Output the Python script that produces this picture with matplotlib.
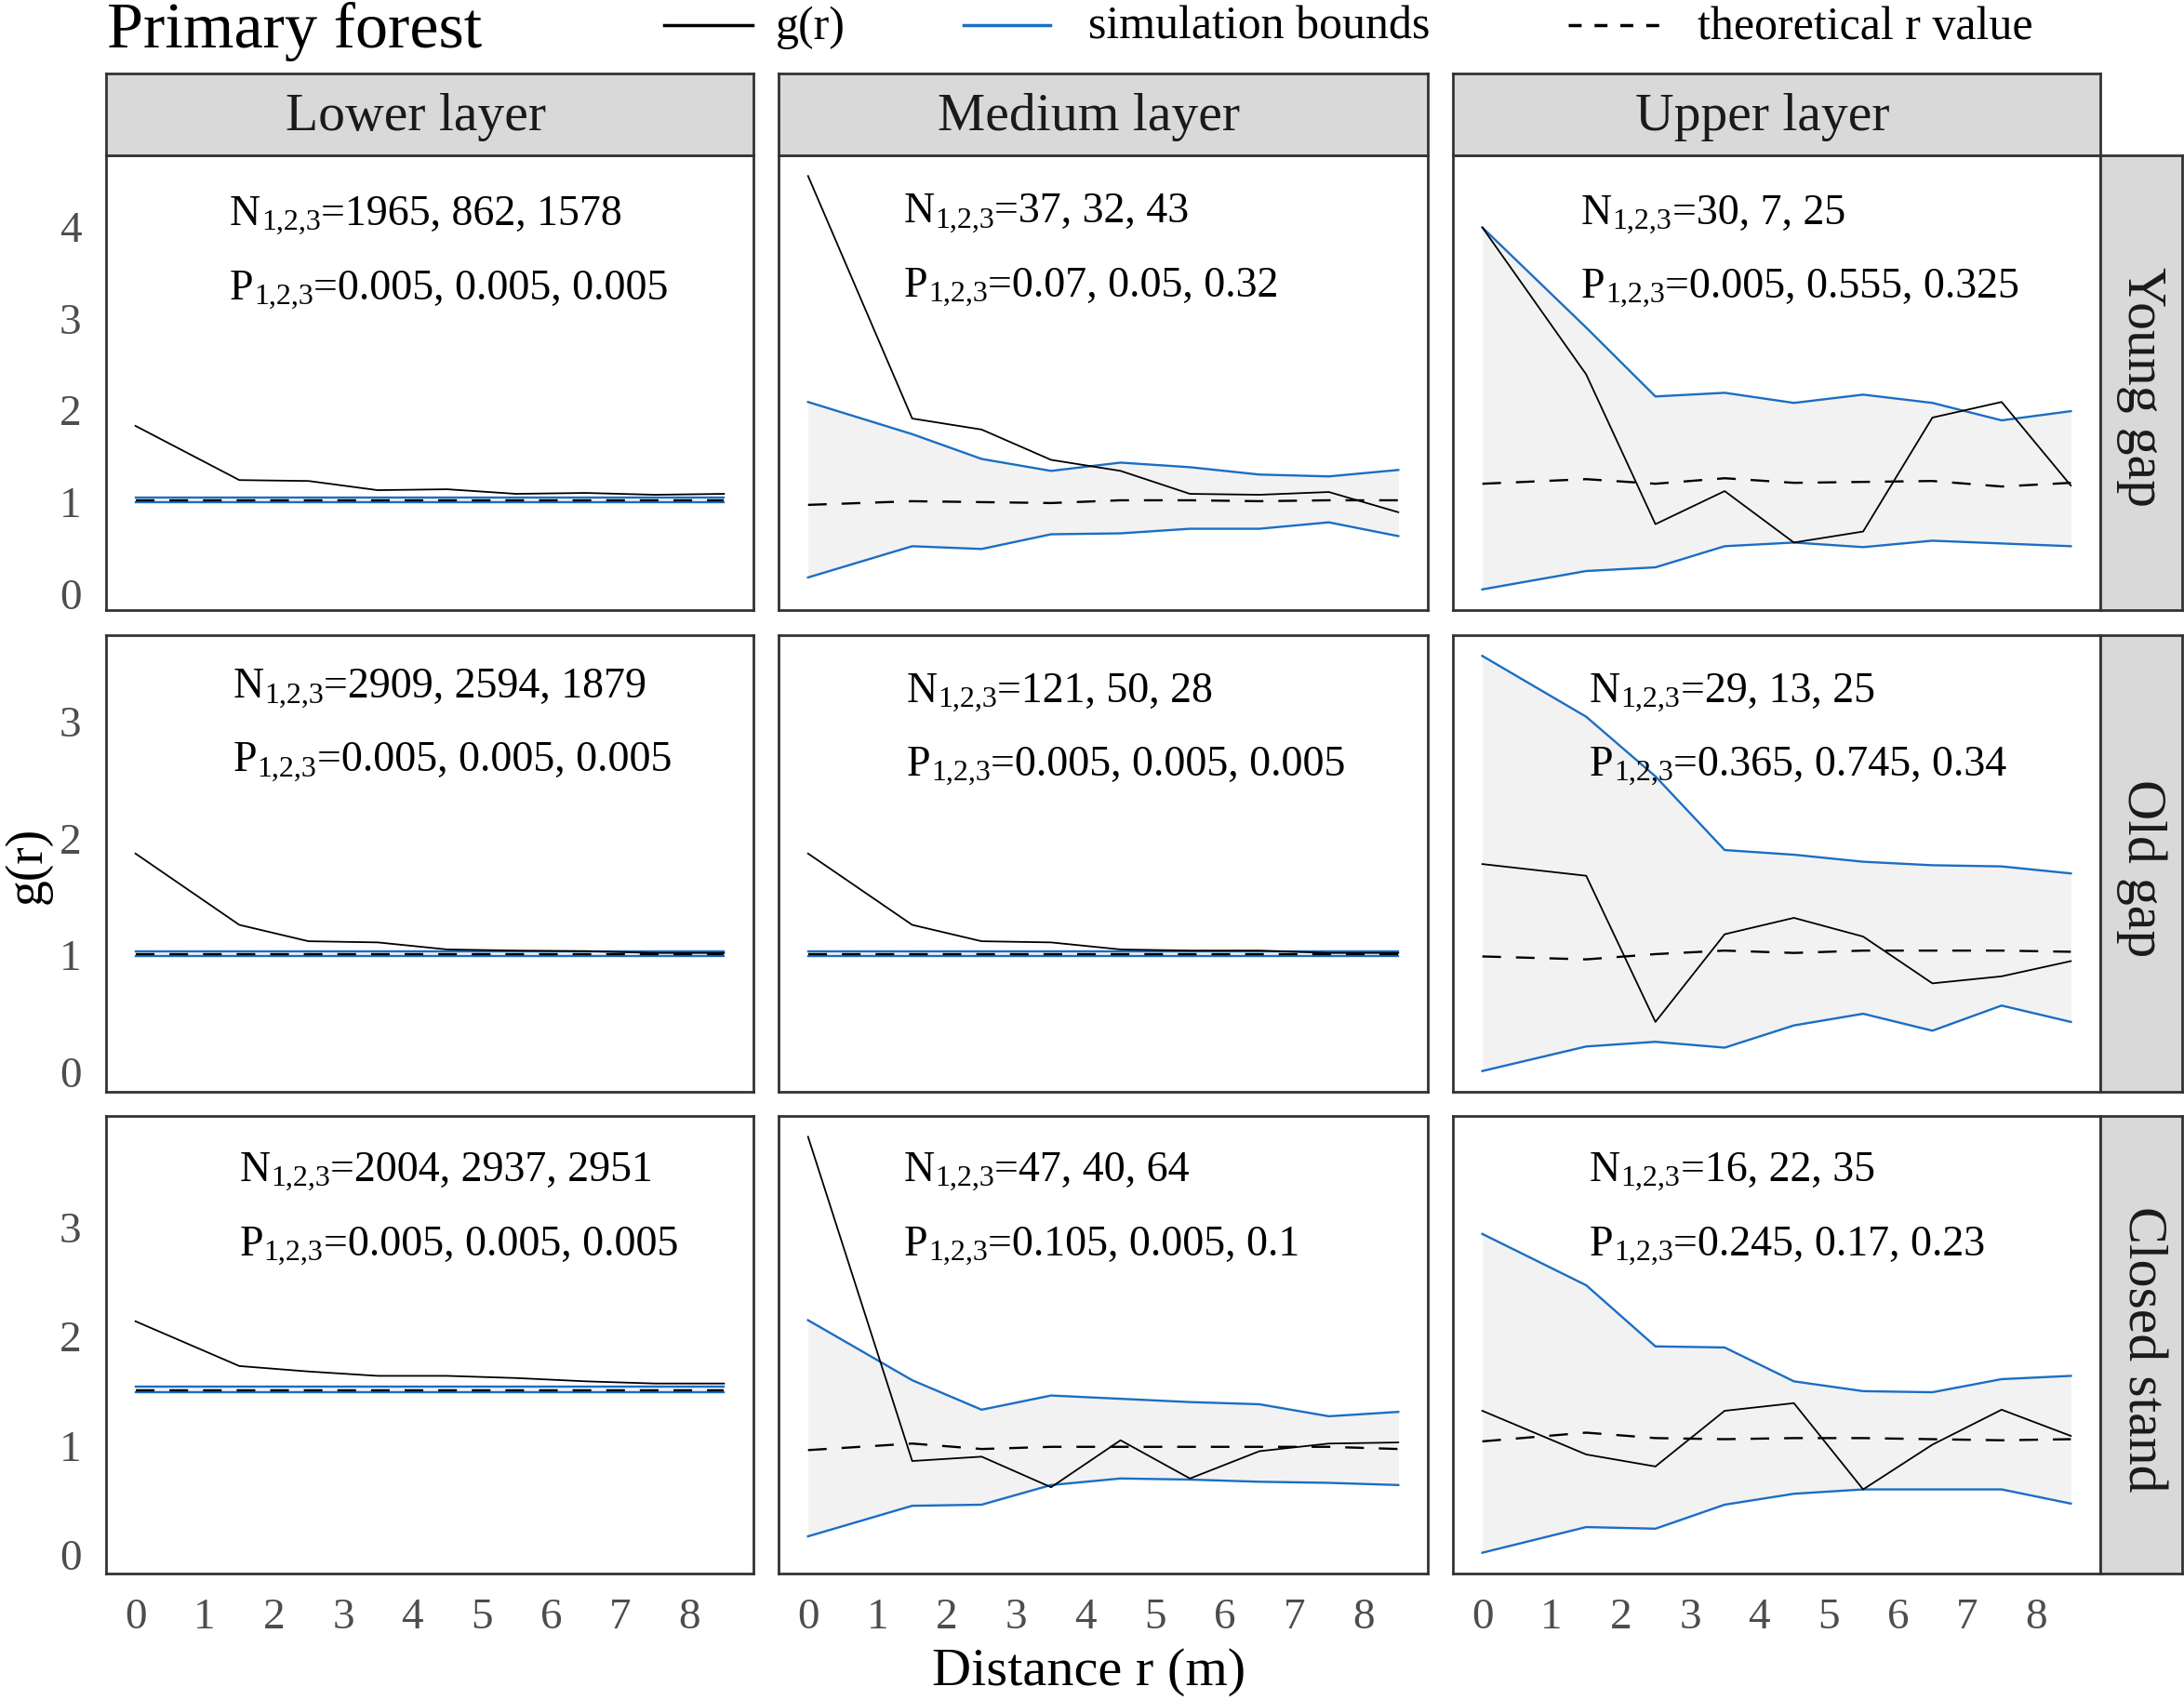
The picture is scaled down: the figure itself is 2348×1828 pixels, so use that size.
import matplotlib
matplotlib.use('Agg')
import matplotlib.pyplot as plt
from matplotlib.lines import Line2D

plt.rcParams['font.family'] = ['Liberation Serif', 'DejaVu Serif']

# ---------------- data ----------------
r = [0, 1.5, 2.5, 3.5, 4.5, 5.5, 6.5, 7.5, 8.5]

layers = ['Lower layer', 'Medium layer', 'Upper layer']
stands = ['Young gap', 'Old gap', 'Closed stand']

# Young gap
g_young_lower = [1.83, 1.24, 1.23, 1.13, 1.14, 1.09, 1.10, 1.08, 1.09]
hi_young_lower = [1.05, 1.05, 1.05, 1.05, 1.05, 1.05, 1.05, 1.05, 1.05]
lo_young_lower = [1.00, 1.00, 1.00, 1.00, 1.00, 1.00, 1.00, 1.00, 1.00]
th_young_lower = [1.02, 1.02, 1.02, 1.02, 1.02, 1.02, 1.02, 1.02, 1.02]

g_young_medium = [4.55, 1.91, 1.79, 1.46, 1.34, 1.09, 1.08, 1.11, 0.89]
hi_young_medium = [2.09, 1.74, 1.47, 1.34, 1.43, 1.38, 1.30, 1.28, 1.35]
lo_young_medium = [0.18, 0.52, 0.49, 0.65, 0.66, 0.71, 0.71, 0.78, 0.63]
th_young_medium = [0.97, 1.01, 1.00, 0.99, 1.02, 1.02, 1.01, 1.02, 1.02]

g_young_upper = [3.99, 2.39, 0.76, 1.12, 0.56, 0.68, 1.92, 2.09, 1.18]
hi_young_upper = [3.99, 2.90, 2.15, 2.19, 2.08, 2.17, 2.08, 1.89, 1.99]
lo_young_upper = [0.05, 0.25, 0.29, 0.52, 0.56, 0.51, 0.58, 0.55, 0.52]
th_young_upper = [1.20, 1.25, 1.20, 1.26, 1.21, 1.22, 1.23, 1.17, 1.21]

# Old gap
g_old_lower = [1.87, 1.26, 1.12, 1.11, 1.05, 1.04, 1.035, 1.02, 1.02]
hi_old_lower = [1.03, 1.03, 1.03, 1.03, 1.03, 1.03, 1.03, 1.03, 1.03]
lo_old_lower = [0.99, 0.99, 0.99, 0.99, 0.99, 0.99, 0.99, 0.99, 0.99]
th_old_lower = [1.01, 1.01, 1.01, 1.01, 1.01, 1.01, 1.01, 1.01, 1.01]

g_old_medium = [1.87, 1.26, 1.12, 1.11, 1.05, 1.04, 1.04, 1.02, 1.02]
hi_old_medium = [1.03, 1.03, 1.03, 1.03, 1.03, 1.03, 1.03, 1.03, 1.03]
lo_old_medium = [0.99, 0.99, 0.99, 0.99, 0.99, 0.99, 0.99, 0.99, 0.99]
th_old_medium = [1.01, 1.01, 1.01, 1.01, 1.01, 1.01, 1.01, 1.01, 1.01]

g_old_upper = [1.78, 1.68, 0.43, 1.18, 1.32, 1.16, 0.76, 0.82, 0.95]
hi_old_upper = [3.56, 3.04, 2.53, 1.90, 1.86, 1.80, 1.77, 1.76, 1.70]
lo_old_upper = [0.01, 0.22, 0.26, 0.21, 0.40, 0.50, 0.355, 0.57, 0.43]
th_old_upper = [0.99, 0.965, 1.01, 1.04, 1.02, 1.04, 1.04, 1.04, 1.03]

# Closed stand
g_closed_lower = [2.14, 1.73, 1.68, 1.64, 1.64, 1.62, 1.59, 1.57, 1.57]
hi_closed_lower = [1.54, 1.54, 1.54, 1.54, 1.54, 1.54, 1.54, 1.54, 1.54]
lo_closed_lower = [1.49, 1.49, 1.49, 1.49, 1.49, 1.49, 1.49, 1.49, 1.49]
th_closed_lower = [1.51, 1.51, 1.51, 1.51, 1.51, 1.51, 1.51, 1.51, 1.51]

g_closed_medium = [3.83, 0.86, 0.90, 0.62, 1.05, 0.70, 0.95, 1.02, 1.03]
hi_closed_medium = [2.15, 1.60, 1.33, 1.46, 1.43, 1.40, 1.38, 1.27, 1.31]
lo_closed_medium = [0.17, 0.45, 0.46, 0.64, 0.70, 0.69, 0.67, 0.66, 0.64]
th_closed_medium = [0.96, 1.02, 0.97, 0.99, 0.99, 0.99, 0.99, 0.99, 0.97]

g_closed_upper = [1.32, 0.92, 0.81, 1.32, 1.39, 0.60, 1.01, 1.33, 1.09]
hi_closed_upper = [2.94, 2.47, 1.91, 1.90, 1.59, 1.50, 1.49, 1.61, 1.64]
lo_closed_upper = [0.02, 0.255, 0.24, 0.46, 0.56, 0.60, 0.60, 0.60, 0.47]
th_closed_upper = [1.04, 1.12, 1.07, 1.06, 1.07, 1.07, 1.06, 1.05, 1.06]

n_labels = [
    ['1965, 862, 1578', '37, 32, 43', '30, 7, 25'],
    ['2909, 2594, 1879', '121, 50, 28', '29, 13, 25'],
    ['2004, 2937, 2951', '47, 40, 64', '16, 22, 35'],
]
p_labels = [
    ['0.005, 0.005, 0.005', '0.07, 0.05, 0.32', '0.005, 0.555, 0.325'],
    ['0.005, 0.005, 0.005', '0.005, 0.005, 0.005', '0.365, 0.745, 0.34'],
    ['0.005, 0.005, 0.005', '0.105, 0.005, 0.1', '0.245, 0.17, 0.23'],
]
sub_label = '1,2,3'

x_ticks = [0, 1, 2, 3, 4, 5, 6, 7, 8]
y_ticks_rows = [[0, 1, 2, 3, 4], [0, 1, 2, 3], [0, 1, 2, 3]]

panels = [
    [(g_young_lower, hi_young_lower, lo_young_lower, th_young_lower),
     (g_young_medium, hi_young_medium, lo_young_medium, th_young_medium),
     (g_young_upper, hi_young_upper, lo_young_upper, th_young_upper)],
    [(g_old_lower, hi_old_lower, lo_old_lower, th_old_lower),
     (g_old_medium, hi_old_medium, lo_old_medium, th_old_medium),
     (g_old_upper, hi_old_upper, lo_old_upper, th_old_upper)],
    [(g_closed_lower, hi_closed_lower, lo_closed_lower, th_closed_lower),
     (g_closed_medium, hi_closed_medium, lo_closed_medium, th_closed_medium),
     (g_closed_upper, hi_closed_upper, lo_closed_upper, th_closed_upper)],
]

# ---------------- style / layout ----------------
BLUE = '#1a6ec4'
FILL = '#f2f2f2'
STRIP = '#d9d9d9'
BORDER = '#333333'
TICKC = '#4d4d4d'

W, H = 2348, 1828
fig = plt.figure(figsize=(W / 100, H / 100), dpi=100)


def rect(x0, y0, x1, y1):
    return [x0 / W, 1 - y1 / H, (x1 - x0) / W, (y1 - y0) / H]


col_x = [(114, 810), (837, 1535), (1562, 2258)]
row_y = [(167, 656), (683, 1174), (1200, 1692)]
strip_top = (79, 167)
strip_right = (2258, 2346)

# annotation positions (axes fraction): left x, baseline y of N and P lines
ann_x = [[0.191, 0.193, 0.198], [0.196, 0.197, 0.211], [0.206, 0.193, 0.211]]
ann_yN = [[0.847, 0.852, 0.849], [0.863, 0.853, 0.853], [0.858, 0.858, 0.858]]
ann_yP = [[0.684, 0.690, 0.687], [0.702, 0.692, 0.692], [0.696, 0.696, 0.696]]

ANN_FS = 33
SUB_FS = 23


def style_box(ax):
    for s in ax.spines.values():
        s.set_color(BORDER)
        s.set_linewidth(2.0)


def sub_text(ax, x, y, head, tail):
    t1 = ax.text(x, y, head, transform=ax.transAxes, fontsize=ANN_FS,
                 ha='left', va='baseline')
    t2 = ax.annotate(sub_label, xy=(1, 0), xycoords=t1, xytext=(0.5, -1.5),
                     textcoords='offset points', fontsize=SUB_FS,
                     ha='left', va='bottom')
    ax.annotate('=' + tail, xy=(1, 0), xycoords=t2, xytext=(0, 1.5),
                textcoords='offset points', fontsize=ANN_FS,
                ha='left', va='bottom')


for i in range(3):
    vals = []
    for j in range(3):
        for arr in panels[i][j]:
            vals.extend(arr)
    ymin, ymax = min(vals), max(vals)
    ypad = 0.05 * (ymax - ymin)
    xpad = 0.05 * (max(r) - min(r))
    for j in range(3):
        g, hi, lo, th = panels[i][j]
        ax = fig.add_axes(rect(col_x[j][0], row_y[i][0], col_x[j][1], row_y[i][1]))
        ax.fill_between(r, lo, hi, color=FILL, lw=0, zorder=1)
        ax.plot(r, lo, color=BLUE, lw=1.7, zorder=2)
        ax.plot(r, hi, color=BLUE, lw=1.7, zorder=2)
        ax.plot(r, th, color='black', lw=1.7, ls=(0, (8.5, 6.8)), zorder=3)
        ax.plot(r, g, color='black', lw=1.3, zorder=4)
        ax.set_xlim(min(r) - xpad, max(r) + xpad)
        ax.set_ylim(ymin - ypad, ymax + ypad)
        ax.set_xticks(x_ticks)
        ax.set_yticks(y_ticks_rows[i])
        ax.tick_params(length=0, labelsize=34, labelcolor=TICKC, pad=19)
        if i < 2:
            ax.tick_params(labelbottom=False)
        if j > 0:
            ax.tick_params(labelleft=False)
        style_box(ax)
        sub_text(ax, ann_x[i][j], ann_yN[i][j], 'N', n_labels[i][j])
        sub_text(ax, ann_x[i][j], ann_yP[i][j], 'P', p_labels[i][j])

# top strips
for j in range(3):
    sa = fig.add_axes(rect(col_x[j][0], strip_top[0], col_x[j][1], strip_top[1]))
    sa.set_facecolor(STRIP)
    sa.set_xticks([])
    sa.set_yticks([])
    style_box(sa)
    sa.text(0.478, 0.47, layers[j], transform=sa.transAxes, fontsize=41.5,
            ha='center', va='center', color='#1a1a1a')

# right strips
for i in range(3):
    sa = fig.add_axes(rect(strip_right[0], row_y[i][0], strip_right[1], row_y[i][1]))
    sa.set_facecolor(STRIP)
    sa.set_xticks([])
    sa.set_yticks([])
    style_box(sa)
    sa.text(0.5, 0.49, stands[i], transform=sa.transAxes, fontsize=43,
            ha='center', va='center', rotation=-90, color='#1a1a1a')

# title
fig.text(115 / W, 1 - 51 / H, 'Primary forest', fontsize=50.5, ha='left', va='baseline')

# legend (manual)
ly = 1 - 27 / H
fig.add_artist(Line2D([714 / W, 809 / W], [ly, ly], color='black', lw=2.5,
                      transform=fig.transFigure))
fig.add_artist(Line2D([1036 / W, 1129 / W], [ly, ly], color=BLUE, lw=2.5,
                      transform=fig.transFigure))
fig.add_artist(Line2D([1686 / W, 1784 / W], [ly, ly], color='black', lw=2.5,
                      ls=(0, (4, 4)), transform=fig.transFigure))
for xx, lab in [(834, 'g(r)'), (1170, 'simulation bounds'), (1825, 'theoretical r value')]:
    fig.text(xx / W, 1 - 42 / H, lab, fontsize=36, ha='left', va='baseline')

# axis titles
fig.text(1171 / W, 1 - 1812 / H, 'Distance r (m)', fontsize=42, ha='center', va='baseline')
fig.text(30 / W, 1 - 930 / H, 'g(r)', fontsize=40, ha='center', va='center', rotation=90)

fig.savefig('out.png', dpi=100)
